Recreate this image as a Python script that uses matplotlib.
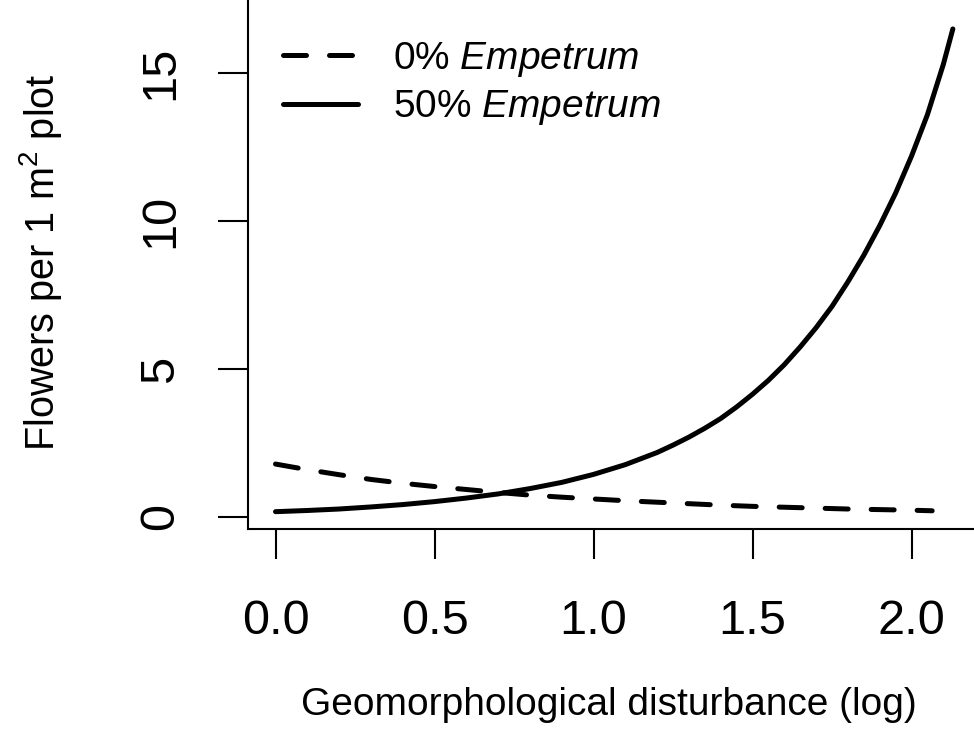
import matplotlib
matplotlib.use('Agg')
import matplotlib.pyplot as plt

plt.rcParams['font.family'] = ['Liberation Sans', 'DejaVu Sans']
plt.rcParams['mathtext.fontset'] = 'custom'
plt.rcParams['mathtext.rm'] = 'Liberation Sans'
plt.rcParams['mathtext.it'] = 'Liberation Sans:italic'

# valores
x_0pct = [0.0, 0.1, 0.2, 0.3, 0.4, 0.5, 0.6, 0.7, 0.8, 0.9, 1.0,
          1.1, 1.2, 1.3, 1.4, 1.5, 1.6, 1.7, 1.8, 1.9, 2.0, 2.065]
y_0pct = [1.79, 1.60, 1.43, 1.27, 1.14, 1.03, 0.93, 0.83, 0.74, 0.67, 0.61,
          0.55, 0.50, 0.45, 0.40, 0.36, 0.33, 0.30, 0.27, 0.25, 0.23, 0.21]

x_50pct = [0.0, 0.1, 0.2, 0.3, 0.4, 0.5, 0.6, 0.7, 0.8, 0.9, 1.0,
           1.1, 1.2, 1.25, 1.3, 1.35, 1.4, 1.45, 1.5, 1.55, 1.6, 1.65, 1.7,
           1.75, 1.8, 1.85, 1.9, 1.95, 2.0, 2.025, 2.05, 2.075, 2.1, 2.115, 2.13]
y_50pct = [0.18, 0.22, 0.27, 0.34, 0.42, 0.52, 0.64, 0.78, 0.96, 1.17, 1.44,
           1.77, 2.18, 2.43, 2.70, 3.00, 3.33, 3.72, 4.15, 4.62, 5.15, 5.75, 6.40,
           7.12, 7.95, 8.85, 9.85, 10.95, 12.2, 12.9, 13.6, 14.45, 15.3, 15.9, 16.5]

xticks = [0.0, 0.5, 1.0, 1.5, 2.0]
xticklabels = ['0.0', '0.5', '1.0', '1.5', '2.0']
yticks = [0, 5, 10, 15]
yticklabels = ['0', '5', '10', '15']

fig = plt.figure(figsize=(9.74, 7.31), dpi=100)
ax = fig.add_axes([248 / 974, 202 / 731, 726 / 974, 529 / 731])

ax.plot(x_0pct, y_0pct, color='black', linewidth=3.6, linestyle='--',
        dashes=(4.6, 4.6), dash_capstyle='round', label='0% $\\mathit{Empetrum}$')
ax.plot(x_50pct, y_50pct, color='black', linewidth=3.6,
        solid_capstyle='round', solid_joinstyle='round', label='50% $\\mathit{Empetrum}$')

ax.set_xlim(-0.0865, 2.1965)
ax.set_ylim(-0.4057, 17.478)

for lado in ['top', 'right']:
    ax.spines[lado].set_visible(False)
for lado in ['left', 'bottom']:
    ax.spines[lado].set_linewidth(1.5)

ax.set_xticks(xticks)
ax.set_xticklabels(xticklabels)
ax.set_yticks(yticks)
ax.set_yticklabels(yticklabels)
ax.tick_params(axis='both', direction='out', length=21.6, width=1.5, labelsize=35)
ax.tick_params(axis='x', pad=29)
ax.tick_params(axis='y', pad=25)
for rot in ax.get_yticklabels():
    rot.set_rotation(90)
    rot.set_va('center')

ax.set_xlabel('Geomorphological disturbance (log)', fontsize=28, va='center')
ax.xaxis.set_label_coords(0.497, -0.333)
ax.set_ylabel('Flowers per 1 m$^2$ plot', fontsize=28.5, va='center')
ax.yaxis.set_label_coords(-0.2865, 0.505)

ax.legend(loc='upper left', bbox_to_anchor=(0.0482, 0.925), frameon=False,
          fontsize=28, handlelength=1.93, handletextpad=0.9, labelspacing=0.25,
          borderpad=0, borderaxespad=0)

fig.savefig('out.png', dpi=100)
